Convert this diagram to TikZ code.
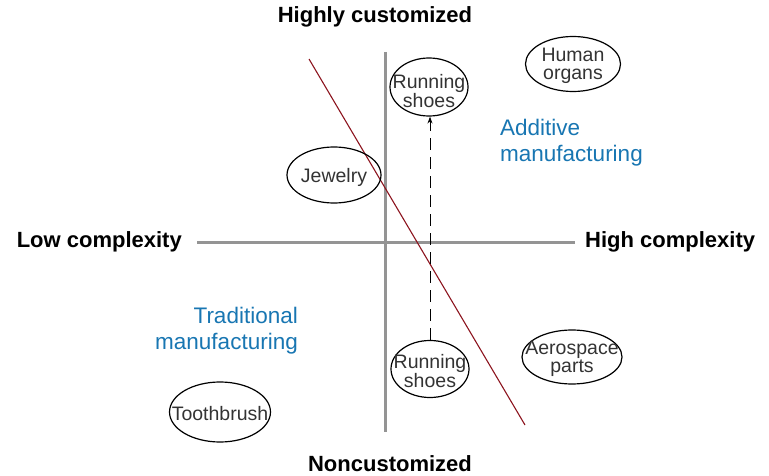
\documentclass[tikz,border=0pt]{standalone}
\usepackage{fontspec}
\setmainfont{Liberation Sans}
\usetikzlibrary{shapes.geometric,arrows.meta,positioning}
\definecolor{addblue}{RGB}{24,118,178}
\definecolor{cutred}{RGB}{140,20,30}

\tikzset{
item/.style={draw, ellipse, line width=1.2pt, inner sep=0pt},
itemtext/.style={align=center, inner sep=0pt, yshift=-2pt, font=\fontsize{19.5}{18}\selectfont, text=black!80},
axislabel/.style={inner sep=0pt, font=\fontsize{22}{26}\selectfont\bfseries},
region/.style={inner sep=0pt, font=\fontsize{22.5}{26}\selectfont, text=addblue}
}

\begin{document}
\begin{tikzpicture}[x=1pt,y=-1pt]
\useasboundingbox (0,0) rectangle (769,476);
\coordinate (top) at (385,52); \coordinate (bottom) at (385,432);
\coordinate (left) at (197,242); \coordinate (right) at (575,242);
\draw[black!42, line width=3pt] (top) -- (bottom);
\draw[black!42, line width=3pt] (left) -- (right);
\node[axislabel] (custom) at (375,17) {Highly customized};
\node[axislabel] (noncustom) at (390,464) {Noncustomized};
\node[axislabel, left=15pt of left] (lowcx) {Low complexity};
\node[axislabel, right=10pt of right] (highcx) {High complexity};
% trade-off line
\coordinate (cutA) at (309,59); \coordinate (cutB) at (525,425);
\draw[cutred, line width=1.1pt] (cutA) -- (cutB);
\node[region, anchor=west, align=left] (additive) at (500,143) {Additive\\manufacturing};
\node[region, anchor=east, align=right] (traditional) at (298,331) {Traditional\\manufacturing};
\node[item, minimum width=78pt, minimum height=58pt, label={[itemtext, yshift=-2pt]center:Running\\shoes}] (shoesup) at (429,87) {};
\node[item, minimum width=78pt, minimum height=57pt, label={[itemtext]center:Running\\shoes}] (shoesdown) at (430,369) {};
\node[item, minimum width=94pt, minimum height=56pt, label={[itemtext]center:Jewelry}] (jewelry) at (334,175) {};
\node[item, minimum width=95pt, minimum height=55pt, label={[itemtext]center:Human\\organs}] (organs) at (573,64) {};
\node[item, minimum width=100pt, minimum height=54pt, label={[itemtext]center:Aerospace\\parts}] (aero) at (572,357) {};
\node[item, minimum width=101pt, minimum height=60pt, label={[itemtext]center:Toothbrush}] (brush) at (220,412) {};
\draw[line width=1pt, dash pattern=on 12pt off 7pt, -{Stealth[length=7pt,width=5pt]}] (shoesdown.north) -- (shoesdown.north |- shoesup.south);
\end{tikzpicture}
\end{document}
